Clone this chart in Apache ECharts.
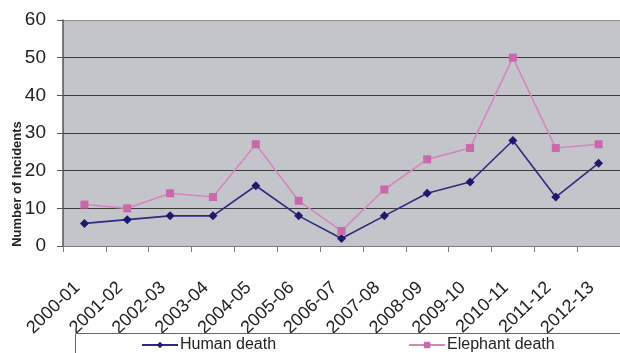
<!DOCTYPE html>
<html>
<head>
<meta charset="utf-8">
<script src="https://cdn.jsdelivr.net/npm/echarts@6/dist/echarts.min.js"></script>
<style>
  html, body { margin: 0; padding: 0; background: #fff; }
  #chart { width: 620px; height: 353px; }
</style>
</head>
<body>
<div id="chart"></div>
<script>
// Incidents per season
const seasons = ['2000-01', '2001-02', '2002-03', '2003-04', '2004-05', '2005-06', '2006-07',
                 '2007-08', '2008-09', '2009-10', '2010-11', '2011-12', '2012-13'];
const humanDeaths = [6, 7, 8, 8, 16, 8, 2, 8, 14, 17, 28, 13, 22];
const elephantDeaths = [11, 10, 14, 13, 27, 12, 4, 15, 23, 26, 50, 26, 27];
const yTicks = [0, 10, 20, 30, 40, 50, 60];
const axisTitle = 'Number of Incidents';
const seriesNames = ['Human death', 'Elephant death'];

const FONT = '"Liberation Sans", Arial, sans-serif';
const chart = echarts.init(document.getElementById('chart'), null, { renderer: 'canvas' });

chart.setOption({
  animation: false,
  backgroundColor: '#ffffff',
  grid: { left: 63, top: 20, width: 564, height: 226, show: true,
          backgroundColor: '#c3c5cb', borderWidth: 0 },
  graphic: [
    // frame around the legend
    { type: 'rect', shape: { x: 75.5, y: 333.5, width: 560, height: 40 },
      style: { fill: 'rgba(255,255,255,0)', stroke: '#666', lineWidth: 1 }, z: 10 },
    { type: 'text', x: 17, y: 184, rotation: Math.PI / 2,
      style: { text: axisTitle, font: 'bold 13px ' + FONT, fill: '#222',
               align: 'center', verticalAlign: 'middle' } }
  ],
  legend: {
    data: seriesNames, left: 141, top: 337, padding: 0,
    itemWidth: 36, itemHeight: 8, itemGap: 132,
    textStyle: { fontFamily: FONT, fontSize: 16, color: '#222', padding: [0, 0, 0, -3] }
  },
  xAxis: {
    type: 'category', data: seasons, boundaryGap: true,
    axisLine: { lineStyle: { color: '#7a7a7a', width: 1 } },
    axisTick: { show: true, length: 6, lineStyle: { color: '#7a7a7a' } },
    axisLabel: { rotate: 44, margin: 32, padding: [0, 10, 0, 0],
                 fontFamily: FONT, fontSize: 18, color: '#222', interval: 0 },
    splitLine: { show: false }
  },
  yAxis: {
    type: 'value', min: yTicks[0], max: yTicks[yTicks.length - 1], interval: 10,
    axisLine: { show: true, lineStyle: { color: '#555', width: 1.5 } },
    axisTick: { show: true, length: 6, lineStyle: { color: '#555' } },
    axisLabel: { margin: 17, fontFamily: FONT, fontSize: 19, color: '#222' },
    splitLine: { show: true, lineStyle: { color: ['#3c3c3c', '#3c3c3c', '#3c3c3c', '#3c3c3c', '#3c3c3c', '#3c3c3c', '#8c8c8c'], width: 1.2 } }
  },
  series: [
    { name: seriesNames[0], type: 'line', data: humanDeaths,
      symbol: 'diamond', symbolSize: 9,
      lineStyle: { color: '#2e2a7c', width: 1.6 },
      itemStyle: { color: '#1e186e' } },
    { name: seriesNames[1], type: 'line', data: elephantDeaths,
      symbol: 'rect', symbolSize: 8,
      lineStyle: { color: '#d586be', width: 1.6 },
      itemStyle: { color: '#c968aa' } }
  ]
});
</script>
</body>
</html>
